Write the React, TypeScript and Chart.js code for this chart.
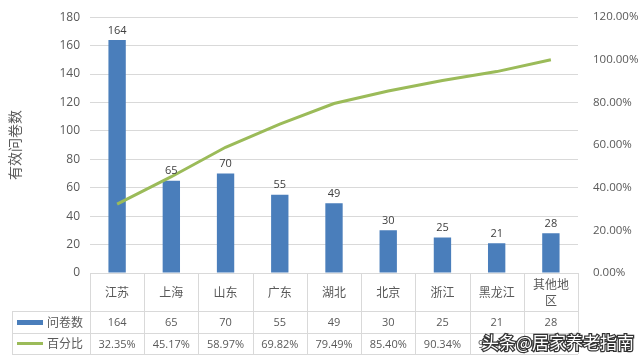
import React, { useEffect, useRef } from "react";
import { Chart, registerables } from "chart.js";

Chart.register(...registerables);

const categories = ["江苏", "上海", "山东", "广东", "湖北", "北京", "浙江", "黑龙江", "其他地区"];
const categoryLines = [["江苏"], ["上海"], ["山东"], ["广东"], ["湖北"], ["北京"], ["浙江"], ["黑龙江"], ["其他地", "区"]];
const counts = [164, 65, 70, 55, 49, 30, 25, 21, 28];
const percents = [32.35, 45.17, 58.97, 69.82, 79.49, 85.4, 90.34, 94.48, 100.0];
const countLabel = "问卷数";
const percentLabel = "百分比";
const yTitle = "有效问卷数";
const watermark = "头条@居家养老指南";

const BLUE = "#4A7EBB";
const GREEN = "#9BBB59";
const GRID = "#D9D9D9";
const TEXT = "#595959";
const FONT = "'Open Sans', 'Noto Sans CJK SC', sans-serif";
const CJK = "'Noto Sans CJK SC', sans-serif";

const tablePlugin = {
  id: "tablePlugin",
  afterDraw(chart: any) {
    const ctx = chart.ctx as CanvasRenderingContext2D;
    const area = chart.chartArea;
    const x = chart.scales.x;
    const n = categories.length;
    const colW = (area.right - area.left) / n;
    const top = area.bottom;
    const row1 = top + 38;
    const row2 = row1 + 22;
    const row3 = row2 + 21;
    const legendLeft = 12;
    ctx.save();
    ctx.strokeStyle = GRID;
    ctx.lineWidth = 1;
    ctx.beginPath();
    for (let i = 0; i <= n; i++) {
      const xx = Math.round(area.left + i * colW) + 0.5;
      ctx.moveTo(xx, top);
      ctx.lineTo(xx, row3);
    }
    ctx.moveTo(legendLeft + 0.5, row1);
    ctx.lineTo(legendLeft + 0.5, row3);
    [row1, row2, row3].forEach((yy) => {
      ctx.moveTo(legendLeft, Math.round(yy) + 0.5);
      ctx.lineTo(area.right, Math.round(yy) + 0.5);
    });
    ctx.stroke();

    ctx.fillStyle = TEXT;
    ctx.textAlign = "center";
    ctx.textBaseline = "middle";
    ctx.font = `12px ${CJK}`;
    categoryLines.forEach((lines, i) => {
      const cx = x.getPixelForValue(i);
      const lh = 16;
      const startY = (top + row1) / 2 - ((lines.length - 1) * lh) / 2;
      lines.forEach((t, j) => ctx.fillText(t, cx, startY + j * lh));
    });
    ctx.font = `11px ${FONT}`;
    counts.forEach((v, i) => {
      ctx.fillText(String(v), x.getPixelForValue(i), (row1 + row2) / 2 + 1);
    });
    percents.forEach((v, i) => {
      ctx.fillText(v.toFixed(2) + "%", x.getPixelForValue(i), (row2 + row3) / 2 + 1);
    });

    // legend keys
    ctx.fillStyle = BLUE;
    ctx.fillRect(17, (row1 + row2) / 2 - 2, 26, 5);
    ctx.strokeStyle = GREEN;
    ctx.lineWidth = 3;
    ctx.beginPath();
    ctx.moveTo(17, (row2 + row3) / 2);
    ctx.lineTo(43, (row2 + row3) / 2);
    ctx.stroke();
    ctx.fillStyle = TEXT;
    ctx.textAlign = "left";
    ctx.font = `12px ${CJK}`;
    ctx.fillText(countLabel, 47, (row1 + row2) / 2);
    ctx.fillText(percentLabel, 47, (row2 + row3) / 2);

    // y title
    ctx.save();
    ctx.translate(15, (area.top + area.bottom) / 2);
    ctx.rotate(-Math.PI / 2);
    ctx.textAlign = "center";
    ctx.font = `14px ${CJK}`;
    ctx.fillText(yTitle, 0, 0);
    ctx.restore();

    // bar value labels
    const meta = chart.getDatasetMeta(1);
    ctx.fillStyle = "#404040";
    ctx.textAlign = "center";
    ctx.textBaseline = "bottom";
    ctx.font = `11px ${FONT}`;
    meta.data.forEach((el: any, i: number) => {
      ctx.fillText(String(counts[i]), el.x, el.y - 4);
    });

    // watermark
    ctx.font = `17px ${CJK}`;
    ctx.textAlign = "left";
    ctx.textBaseline = "middle";
    ctx.lineWidth = 2.5;
    ctx.strokeStyle = "#333333";
    ctx.strokeText(watermark, 482, 343);
    ctx.fillStyle = "#FFFFFF";
    ctx.fillText(watermark, 482, 343);
    ctx.restore();
  },
};

export default function App() {
  const ref = useRef<HTMLCanvasElement>(null);
  useEffect(() => {
    document.body.style.margin = "0";
    const chart = new Chart(ref.current!, {
      type: "bar",
      data: {
        labels: categories,
        datasets: [
          {
            type: "line",
            label: percentLabel,
            data: percents.map((p) => p / 100),
            borderColor: GREEN,
            backgroundColor: GREEN,
            borderWidth: 3,
            pointRadius: 0,
            tension: 0,
            yAxisID: "y1",
            order: 0,
          } as any,
          {
            type: "bar",
            label: countLabel,
            data: counts,
            backgroundColor: BLUE,
            barPercentage: 0.32,
            categoryPercentage: 1,
            yAxisID: "y",
            order: 1,
          },
        ],
      },
      options: {
        animation: false,
        responsive: false,
        layout: { padding: { top: 9, bottom: 85, left: 0, right: 0 } },
        plugins: { legend: { display: false }, tooltip: { enabled: false } },
        scales: {
          x: { display: false, offset: true },
          y: {
            position: "left",
            min: 0,
            max: 180,
            ticks: { stepSize: 20, color: TEXT, font: { size: 12, family: FONT }, padding: 10 },
            grid: { color: GRID, drawTicks: false },
            border: { display: false },
            afterFit: (s: any) => {
              s.width = 90;
            },
          },
          y1: {
            position: "right",
            min: 0,
            max: 1.2,
            ticks: {
              stepSize: 0.2,
              color: TEXT,
              font: { size: 11.5, family: FONT },
              padding: 7,
              callback: (v: any) => (Number(v) * 100).toFixed(2) + "%",
            },
            grid: { display: false },
            border: { display: false },
            afterFit: (s: any) => {
              s.width = 62;
            },
          },
        },
      },
      plugins: [tablePlugin],
    });
    return () => chart.destroy();
  }, []);
  return <canvas ref={ref} width={640} height={358} style={{ display: "block" }} />;
}
